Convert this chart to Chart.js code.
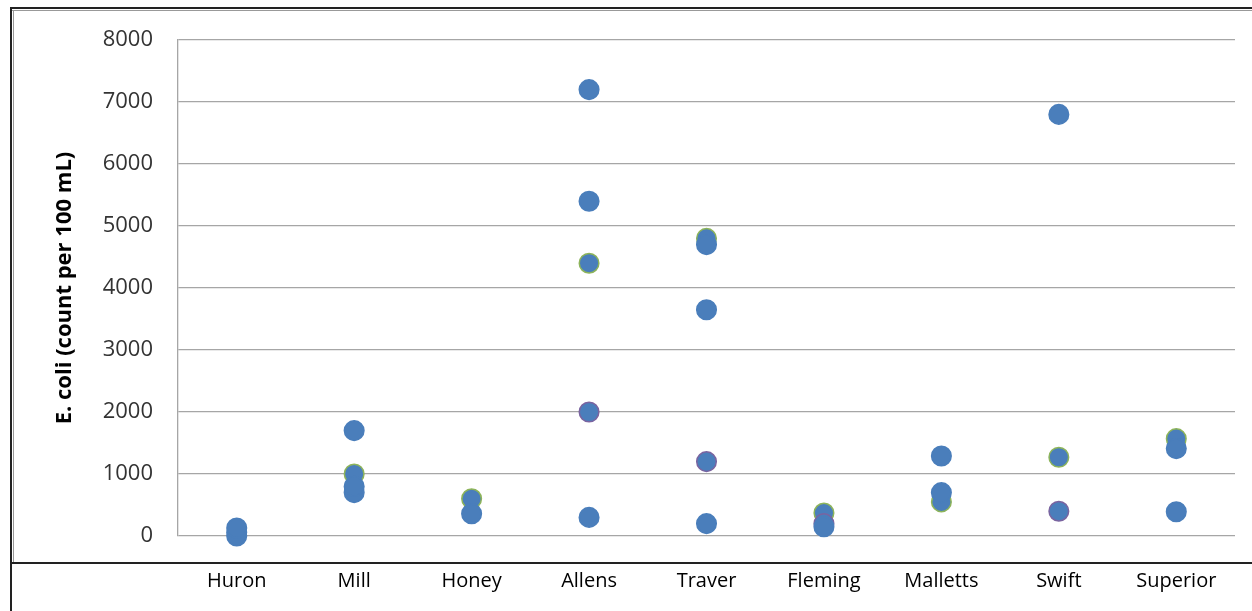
<!DOCTYPE html>
<html>
<head>
<meta charset="utf-8">
<title>E. coli by site</title>
<script src="https://cdn.jsdelivr.net/npm/chart.js@4/dist/chart.umd.min.js"></script>
<style>
  html, body { margin: 0; padding: 0; background: #fff; }
  #wrap { width: 1252px; height: 611px; position: relative; }
</style>
</head>
<body>
<div id="wrap"><canvas id="ecoliChart"></canvas></div>
<script>
// sites along the x axis
const sites = ['Huron', 'Mill', 'Honey', 'Allens', 'Traver', 'Fleming', 'Malletts', 'Swift', 'Superior'];

// E. coli counts, one value per site (null = no sample)
const sampleA = [130, 1700, 360, 7200, 4700, 150, 1290, 6800, 1410];
const sampleB = [0, 800, null, 5400, 3650, null, 700, null, 390];
const sampleC = [60, 700, null, 300, 200, null, null, null, null];
const sampleD = [null, null, null, 2000, 1200, 200, null, 400, null];
const sampleE = [null, 1000, 600, 4400, 4800, 370, 550, 1270, 1570];

const yTicks = [0, 1000, 2000, 3000, 4000, 5000, 6000, 7000, 8000];

const markerFill = '#4A7EBB';

// Excel-like frame around the chart
const framePlugin = {
    id: 'frame',
    afterDraw(chart) {
        const c = chart.ctx;
        c.save();
        c.fillStyle = '#222';
        c.fillRect(10, 7, 1242, 2);      // top outer line
        c.fillRect(10, 7, 2, 604);       // left outer line
        c.fillRect(10, 562, 1242, 2);    // bottom of framed area
        c.fillStyle = '#999';
        c.fillRect(12, 10, 1240, 1);
        c.fillRect(13, 10, 1, 552);
        c.restore();
    }
};

function series(label, values, border) {
    return {
        label: label,
        data: values,
        showLine: false,
        clip: false,
        pointRadius: 9.8,
        pointHoverRadius: 9.8,
        pointBackgroundColor: markerFill,
        pointBorderColor: border,
        pointBorderWidth: 1.5
    };
}

new Chart(document.getElementById('ecoliChart').getContext('2d'), {
    type: 'line',
    data: {
        labels: sites,
        datasets: [
            series('Sample A', sampleA, '#4A7EBB'),
            series('Sample B', sampleB, '#4A7EBB'),
            series('Sample C', sampleC, '#4A7EBB'),
            series('Sample D', sampleD, '#7A64A0'),
            series('Sample E', sampleE, '#8DB45A')
        ]
    },
    options: {
        responsive: true,
        maintainAspectRatio: false,
        animation: false,
        layout: { padding: { left: 0, right: 17, top: 40, bottom: 0 } },
        plugins: {
            legend: { display: false },
            tooltip: { enabled: false }
        },
        scales: {
            x: {
                offset: true,
                grid: { display: false, drawTicks: false },
                border: { display: false },
                ticks: {
                    padding: 33,
                    color: '#000',
                    font: { family: 'Open Sans', size: 20 }
                },
                afterFit: function(scale) { scale.height = 75; }
            },
            y: {
                min: 0,
                max: 8000,
                afterBuildTicks: function(scale) {
                    scale.ticks = yTicks.map(v => ({ value: v }));
                },
                grid: { color: '#A6A6A6', lineWidth: 1.3, drawTicks: false },
                border: { display: true, color: '#A6A6A6', width: 1.3 },
                ticks: {
                    padding: 25,
                    color: '#333',
                    font: { family: 'Open Sans', size: 22 },
                    callback: function(value) { return String(value); }
                },
                title: {
                    display: true,
                    text: 'E. coli (count per 100 mL)',
                    color: '#000',
                    font: { family: 'Open Sans', size: 22, weight: 'bold' },
                    padding: { top: 52, bottom: 0 }
                },
                afterFit: function(scale) { scale.width = 178; }
            }
        }
    },
    plugins: [framePlugin]
});
</script>
</body>
</html>
